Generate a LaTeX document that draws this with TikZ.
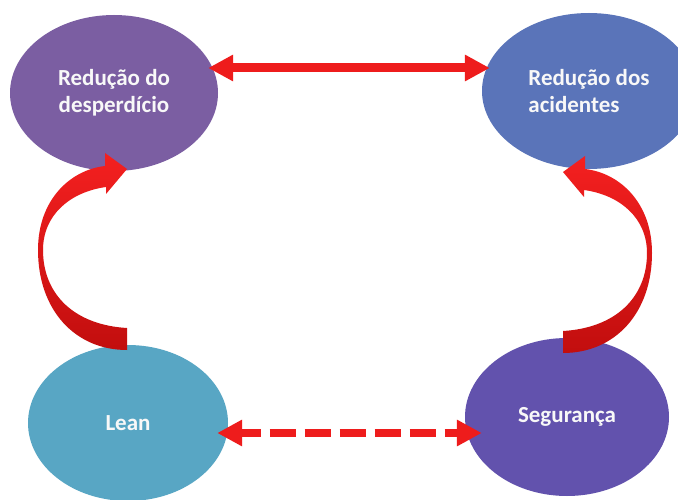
\documentclass[tikz,border=0pt]{standalone}
\usepackage{fontspec}
\setmainfont{Carlito}
\usetikzlibrary{shapes.geometric,arrows.meta}
\definecolor{cPurple}{HTML}{7B5EA2}
\definecolor{cBlue}{HTML}{5A74B9}
\definecolor{cTeal}{HTML}{58A6C4}
\definecolor{cViolet}{HTML}{6252AD}
\definecolor{cRed}{HTML}{EE1C1C}
\definecolor{cRedTop}{HTML}{F42020}
\definecolor{cRedBot}{HTML}{C20E0E}
\definecolor{cText}{HTML}{F8F8F8}
\begin{document}
\begin{tikzpicture}[x=1pt,y=-1pt,
  blob/.style={ellipse, inner sep=0pt, text=cText,
    font=\fontsize{23}{27}\selectfont\bfseries},
  bigarrow/.style={draw=none, top color=cRedTop, bottom color=cRedBot},
  link/.style={cRed, line width=9pt,
    {Triangle[length=25pt,width=25pt]}-{Triangle[length=25pt,width=25pt]}},
  dashlink/.style={cRed, line width=8pt, dash pattern=on 26pt off 9pt, dash phase=6pt,
    {Triangle[length=25pt,width=25pt]}-{Triangle[length=25pt,width=25pt]}}]
\useasboundingbox (0,0) rectangle (678,500);
\fill[white] (0,0) rectangle (678,500);

\node[blob, fill=cPurple, minimum width=208pt, minimum height=156pt, align=center]
  (rd) at (114,93) {Redução do\\desperdício};
\node[blob, fill=cBlue, minimum width=214pt, minimum height=156pt, align=left]
  (ra) at (589,91) {Redução dos\\acidentes};
\node[blob, fill=cTeal, minimum width=200pt, minimum height=156pt]
  (lean) at (128,423) {Lean};
\node[blob, fill=cViolet, minimum width=204pt, minimum height=158pt]
  (seg) at (567,417) {Segurança};

% straight connectors
\draw[link] ([shift={(-10,-25)}]rd.east) -- ([shift={(8,-23)}]ra.west);
\draw[dashlink] ([shift={(-11,10)}]lean.east) -- ([shift={(17,16)}]seg.west);

% curved arrows
\path[bigarrow] (127,328) -- (127,350) .. controls (75,350) and (38,310) .. (38,250)
  .. controls (38,200) and (70,170) .. (105,166) -- (105,153) -- (127,169) -- (106,194)
  -- (106,187) .. controls (70,192) and (43,215) .. (43,250)
  .. controls (43,295) and (75,325) .. (127,328) -- cycle;
\path[bigarrow] (563,331) -- (563,353) .. controls (615,353) and (652,313) .. (652,253)
  .. controls (652,203) and (620,173) .. (585,169) -- (585,156) -- (563,172) -- (584,197)
  -- (584,190) .. controls (620,195) and (647,218) .. (647,253)
  .. controls (647,298) and (615,328) .. (563,331) -- cycle;
\end{tikzpicture}
\end{document}
